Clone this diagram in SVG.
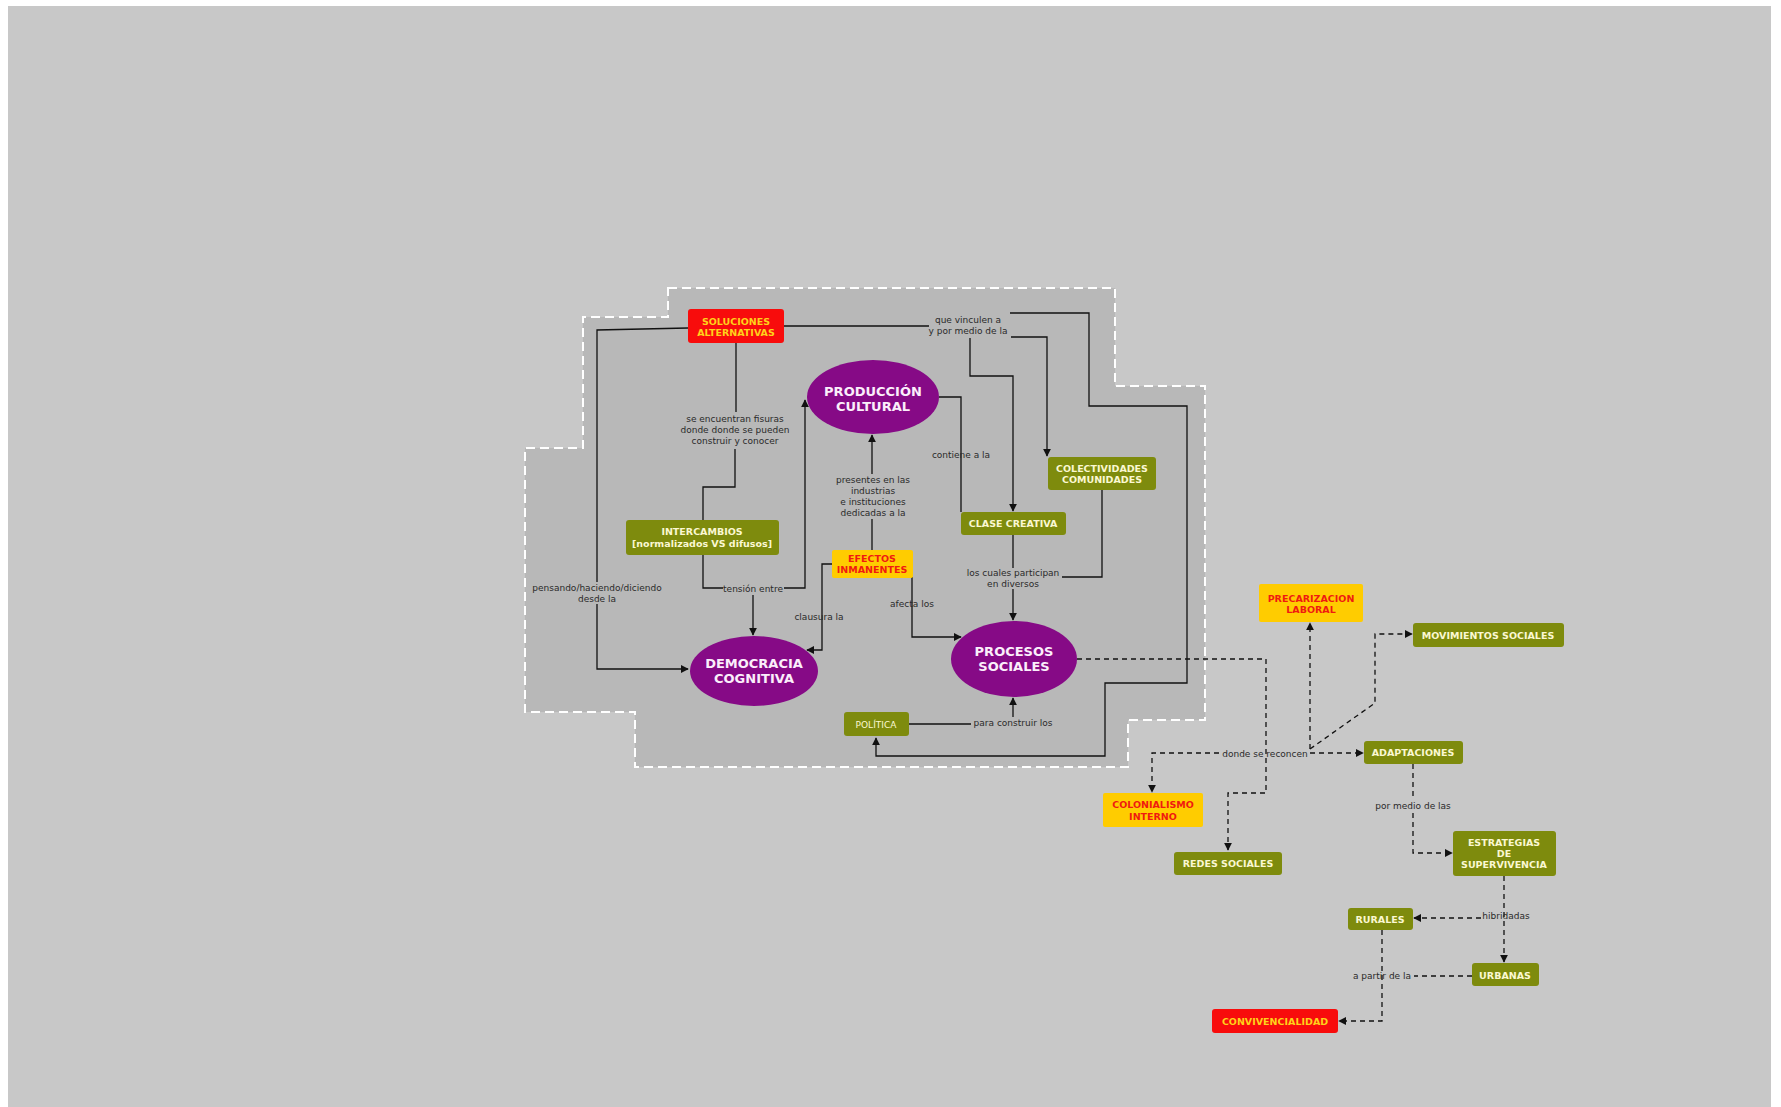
<svg xmlns="http://www.w3.org/2000/svg" width="1781" height="1107" viewBox="0 0 1781 1107">
  <defs>
    <marker id="arrow" viewBox="0 0 10 10" refX="9" refY="5" markerWidth="8" markerHeight="8" markerUnits="userSpaceOnUse" orient="auto">
      <path d="M0,0 L10,5 L0,10 z" fill="#111"/>
    </marker>
    <style>
      .olive { fill: #7e8b0d; }
      .red { fill: #f80c0c; }
      .yellow { fill: #ffcc00; }
      .purple { fill: #860a86; }
      .t { font-family: "DejaVu Sans", Verdana, sans-serif; text-anchor: middle; dominant-baseline: central; }
      .nb { font-size: 9.5px; font-weight: bold; }
      .on-olive { fill: #fbf8d2; }
      .on-red { fill: #ffd21a; }
      .on-yellow { fill: #f01a10; }
      .ell { font-size: 13px; font-weight: bold; fill: #fbeefb; }
      .lbl { font-size: 9px; fill: #2a2a2a; }
      .solid { fill: none; stroke: #111; stroke-width: 1.3; }
      .dash { fill: none; stroke: #111; stroke-width: 1.3; stroke-dasharray: 5 4; }
    </style>
  </defs>

  <!-- page -->
  <rect x="0" y="0" width="1781" height="1107" fill="#ffffff"/>
  <rect x="8" y="6" width="1763" height="1101" fill="#c8c8c8"/>

  <!-- framed area -->
  <polygon points="668,288 1115,288 1115,386 1205,386 1205,720 1128,720 1128,767 635,767 635,712 525,712 525,448 583,448 583,317 668,317" fill="#b8b8b8" stroke="#ffffff" stroke-width="2" stroke-dasharray="9 5"/>

  <!-- connectors -->
  <g id="connectors">
    <path class="solid" d="M688,328 L597,330 L597,582"/>
    <path class="solid" d="M597,604 L597,669 L688,669" marker-end="url(#arrow)"/>
    <path class="solid" d="M736,343 L736,412"/>
    <path class="solid" d="M735,449 L735,487 L703,487 L703,520"/>
    <path class="solid" d="M703,555 L703,588 L723,588"/>
    <path class="solid" d="M784,588 L805,588 L805,400" marker-end="url(#arrow)"/>
    <path class="solid" d="M753,595 L753,635" marker-end="url(#arrow)"/>
    <path class="solid" d="M872,550 L872,519"/>
    <path class="solid" d="M872,474 L872,435" marker-end="url(#arrow)"/>
    <path class="solid" d="M832,564 L822,564 L822,650 L807,650" marker-end="url(#arrow)"/>
    <path class="solid" d="M912,577 L912,637 L961,637" marker-end="url(#arrow)"/>
    <path class="solid" d="M784,326 L929,326"/>
    <path class="solid" d="M1010,313 L1089,313 L1089,406 L1187,406 L1187,683 L1105,683 L1105,756 L876,756 L876,738" marker-end="url(#arrow)"/>
    <path class="solid" d="M1011,337 L1047,337 L1047,456" marker-end="url(#arrow)"/>
    <path class="solid" d="M970,338 L970,376 L1013,376 L1013,511" marker-end="url(#arrow)"/>
    <path class="solid" d="M939,397 L961,397 L961,512"/>
    <path class="solid" d="M1013,535 L1013,568"/>
    <path class="solid" d="M1013,589 L1013,620" marker-end="url(#arrow)"/>
    <path class="solid" d="M1102,490 L1102,577 L1062,577"/>
    <path class="solid" d="M909,724 L971,724"/>
    <path class="solid" d="M1013,717 L1013,698" marker-end="url(#arrow)"/>

    <path class="dash" d="M1077,659 L1266,659 L1266,793 L1228,793 L1228,850" marker-end="url(#arrow)"/>
    <path class="dash" d="M1219,753 L1152,753 L1152,792" marker-end="url(#arrow)"/>
    <path class="dash" d="M1310,753 L1363,753" marker-end="url(#arrow)"/>
    <path class="dash" d="M1310,749 L1310,623" marker-end="url(#arrow)"/>
    <path class="dash" d="M1310,749 L1375,703 L1375,634 L1412,634" marker-end="url(#arrow)"/>
    <path class="dash" d="M1413,764 L1413,799"/>
    <path class="dash" d="M1413,813 L1413,853 L1452,853" marker-end="url(#arrow)"/>
    <path class="dash" d="M1504,876 L1504,962" marker-end="url(#arrow)"/>
    <path class="dash" d="M1481,918 L1414,918" marker-end="url(#arrow)"/>
    <path class="dash" d="M1472,976 L1414,976"/>
    <path class="dash" d="M1382,930 L1382,1021 L1339,1021" marker-end="url(#arrow)"/>
  </g>

  <!-- connector labels -->
  <g id="labels">
    <text class="t lbl" x="968" y="320">que vinculen a</text>
    <text class="t lbl" x="968" y="331">y por medio de la</text>
    <text class="t lbl" x="735" y="419">se encuentran fisuras</text>
    <text class="t lbl" x="735" y="430">donde donde se pueden</text>
    <text class="t lbl" x="735" y="441">construir y conocer</text>
    <text class="t lbl" x="873" y="480">presentes en las</text>
    <text class="t lbl" x="873" y="491">industrias</text>
    <text class="t lbl" x="873" y="502">e instituciones</text>
    <text class="t lbl" x="873" y="513">dedicadas a la</text>
    <text class="t lbl" x="961" y="455">contiene a la</text>
    <text class="t lbl" x="1013" y="573">los cuales participan</text>
    <text class="t lbl" x="1013" y="584">en diversos</text>
    <text class="t lbl" x="597" y="588">pensando/haciendo/diciendo</text>
    <text class="t lbl" x="597" y="599">desde la</text>
    <text class="t lbl" x="753" y="589">tensión entre</text>
    <text class="t lbl" x="819" y="617">clausura la</text>
    <text class="t lbl" x="912" y="604">afecta los</text>
    <text class="t lbl" x="1013" y="723">para construir los</text>
    <text class="t lbl" x="1265" y="754">donde se reconcen</text>
    <text class="t lbl" x="1413" y="806">por medio de las</text>
    <text class="t lbl" x="1506" y="916">hibridadas</text>
    <text class="t lbl" x="1382" y="976">a partir de la</text>
  </g>

  <!-- nodes -->
  <g id="soluciones">
    <rect class="red" x="688" y="309" width="96" height="34" rx="3"/>
    <text class="t nb on-red" x="736" y="321">SOLUCIONES</text>
    <text class="t nb on-red" x="736" y="332">ALTERNATIVAS</text>
  </g>
  <g id="produccion">
    <ellipse class="purple" cx="873" cy="397" rx="66" ry="37"/>
    <text class="t ell" x="873" y="391">PRODUCCIÓN</text>
    <text class="t ell" x="873" y="406">CULTURAL</text>
  </g>
  <g id="intercambios">
    <rect class="olive" x="626" y="520" width="153" height="35" rx="3"/>
    <text class="t nb on-olive" x="702" y="531">INTERCAMBIOS</text>
    <text class="t nb on-olive" x="702" y="543">[normalizados VS difusos]</text>
  </g>
  <g id="efectos">
    <rect class="yellow" x="832" y="550" width="81" height="28" rx="2"/>
    <text class="t nb on-yellow" x="872" y="558">EFECTOS</text>
    <text class="t nb on-yellow" x="872" y="569">INMANENTES</text>
  </g>
  <g id="clase-creativa">
    <rect class="olive" x="961" y="512" width="105" height="23" rx="3"/>
    <text class="t nb on-olive" x="1013" y="523">CLASE CREATIVA</text>
  </g>
  <g id="colectividades">
    <rect class="olive" x="1048" y="457" width="108" height="33" rx="3"/>
    <text class="t nb on-olive" x="1102" y="468">COLECTIVIDADES</text>
    <text class="t nb on-olive" x="1102" y="479">COMUNIDADES</text>
  </g>
  <g id="democracia">
    <ellipse class="purple" cx="754" cy="671" rx="64" ry="35"/>
    <text class="t ell" x="754" y="663">DEMOCRACIA</text>
    <text class="t ell" x="754" y="678">COGNITIVA</text>
  </g>
  <g id="procesos">
    <ellipse class="purple" cx="1014" cy="659" rx="63" ry="38"/>
    <text class="t ell" x="1014" y="651">PROCESOS</text>
    <text class="t ell" x="1014" y="666">SOCIALES</text>
  </g>
  <g id="politica">
    <rect class="olive" x="844" y="712" width="65" height="24" rx="3"/>
    <text class="t on-olive" x="876" y="725" font-size="9">POLÍTICA</text>
  </g>
  <g id="precarizacion">
    <rect class="yellow" x="1259" y="584" width="104" height="38" rx="2"/>
    <text class="t nb on-yellow" x="1311" y="598">PRECARIZACION</text>
    <text class="t nb on-yellow" x="1311" y="609">LABORAL</text>
  </g>
  <g id="movimientos">
    <rect class="olive" x="1413" y="623" width="151" height="24" rx="3"/>
    <text class="t nb on-olive" x="1488" y="635">MOVIMIENTOS SOCIALES</text>
  </g>
  <g id="adaptaciones">
    <rect class="olive" x="1364" y="741" width="99" height="23" rx="3"/>
    <text class="t nb on-olive" x="1413" y="752">ADAPTACIONES</text>
  </g>
  <g id="colonialismo">
    <rect class="yellow" x="1103" y="793" width="100" height="34" rx="2"/>
    <text class="t nb on-yellow" x="1153" y="804">COLONIALISMO</text>
    <text class="t nb on-yellow" x="1153" y="816">INTERNO</text>
  </g>
  <g id="redes">
    <rect class="olive" x="1174" y="852" width="108" height="23" rx="3"/>
    <text class="t nb on-olive" x="1228" y="863">REDES SOCIALES</text>
  </g>
  <g id="estrategias">
    <rect class="olive" x="1453" y="831" width="103" height="45" rx="3"/>
    <text class="t nb on-olive" x="1504" y="842">ESTRATEGIAS</text>
    <text class="t nb on-olive" x="1504" y="853">DE</text>
    <text class="t nb on-olive" x="1504" y="864">SUPERVIVENCIA</text>
  </g>
  <g id="rurales">
    <rect class="olive" x="1348" y="908" width="65" height="22" rx="3"/>
    <text class="t nb on-olive" x="1380" y="919">RURALES</text>
  </g>
  <g id="urbanas">
    <rect class="olive" x="1472" y="963" width="67" height="23" rx="3"/>
    <text class="t nb on-olive" x="1505" y="975">URBANAS</text>
  </g>
  <g id="convivencialidad">
    <rect class="red" x="1212" y="1009" width="126" height="24" rx="3"/>
    <text class="t nb on-red" x="1275" y="1021">CONVIVENCIALIDAD</text>
  </g>
</svg>
